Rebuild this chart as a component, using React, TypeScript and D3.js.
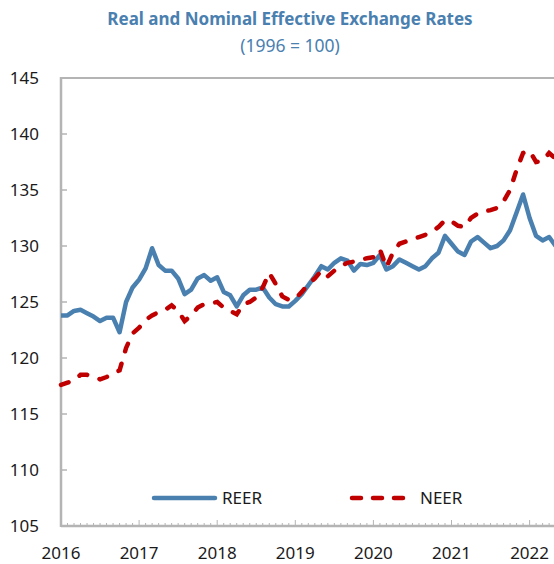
import * as React from "react";
import * as d3 from "d3";

// monthly values, Jan 2016 onward
const reer = [
  123.8, 123.8, 124.2, 124.3, 124.0, 123.7, 123.3, 123.6, 123.6, 122.3, 125.0, 126.3,
  127.0, 128.0, 129.8, 128.3, 127.8, 127.8, 127.1, 125.7, 126.1, 127.1, 127.4, 126.9,
  127.2, 125.9, 125.6, 124.6, 125.6, 126.1, 126.1, 126.3, 125.4, 124.8, 124.6, 124.6,
  125.1, 125.7, 126.5, 127.3, 128.2, 127.9, 128.5, 128.9, 128.7, 127.8, 128.4, 128.3,
  128.5, 129.2, 127.9, 128.2, 128.8, 128.5, 128.2, 127.9, 128.2, 128.9, 129.4, 130.9,
  130.2, 129.5, 129.2, 130.4, 130.8, 130.3, 129.8, 130.0, 130.5, 131.4, 133.0, 134.6,
  132.5, 130.9, 130.5, 130.8, 130.0,
];

const neer = [
  117.6, 117.8, 118.0, 118.5, 118.5, 118.3, 118.1, 118.3, 118.6, 118.9, 120.9, 122.2,
  122.7, 123.4, 123.8, 124.1, 124.3, 124.7, 124.2, 123.3, 123.8, 124.5, 124.8, 124.9,
  125.0, 124.5, 124.2, 123.9, 124.8, 125.0, 125.4, 126.3, 127.6, 126.6, 125.5, 125.2,
  125.3, 125.9, 126.6, 127.1, 127.8, 127.3, 127.8, 128.2, 128.5, 128.6, 128.8, 128.9,
  129.0, 129.7, 128.1, 129.4, 130.2, 130.4, 130.6, 130.8, 131.0, 131.3, 131.7, 132.3,
  132.2, 131.8, 131.7, 132.5, 132.9, 133.1, 133.2, 133.4, 134.0, 135.0, 136.8, 138.3,
  138.5, 137.5, 137.6, 138.3, 137.8,
];

const yearTicks = [2016, 2017, 2018, 2019, 2020, 2021, 2022];
const yTicks = [105, 110, 115, 120, 125, 130, 135, 140, 145];

const W = 554;
const H = 564;
const left = 61;
const right = 607.7;
const top = 78;
const bottom = 526;

const blue = "#4A80B0";
const red = "#C00000";
const grey = "#B4B4B4";
const font = "'Noto Sans', 'Open Sans', sans-serif";

export default function App() {
  const x = d3.scaleLinear().domain([2016, 2023]).range([left, right]);
  const y = d3.scaleLinear().domain([105, 145]).range([bottom, top]);

  const line = d3
    .line<number>()
    .x((_, i) => x(2016 + i / 12))
    .y((d) => y(d));

  const months = d3.range(2016 * 12, 2023 * 12 + 1).map((m) => m / 12);

  return (
    <svg
      width={W}
      height={H}
      style={{ position: "absolute", left: 0, top: 0, display: "block" }}
      fontFamily={font}
    >
      <rect width={W} height={H} fill="#fff" />
      <text x={290} y={25} textAnchor="middle" fontSize={17} fontWeight="bold" fill="#4A80B0">
        Real and Nominal Effective Exchange Rates
      </text>
      <text x={290} y={52} textAnchor="middle" fontSize={17.5} fill="#4A80B0">
        (1996 = 100)
      </text>

      {/* frame */}
      <line x1={left} x2={right} y1={top} y2={top} stroke={grey} strokeWidth={2} />
      <line x1={left} x2={left} y1={top - 1} y2={bottom + 1} stroke={grey} strokeWidth={2.5} />
      <line x1={left} x2={right} y1={bottom} y2={bottom} stroke={grey} strokeWidth={2.5} />

      {yTicks.map((t) => (
        <g key={t}>
          <line x1={left} x2={left + 6} y1={y(t)} y2={y(t)} stroke={grey} strokeWidth={1.5} />
          <text x={39} y={y(t) + 6} textAnchor="end" fontSize={17} fill="#1a1a1a">
            {t}
          </text>
        </g>
      ))}

      {months.map((m, i) => (
        <line
          key={i}
          x1={x(m)}
          x2={x(m)}
          y1={bottom}
          y2={bottom - (i % 12 === 0 ? 6 : 3)}
          stroke={grey}
          strokeWidth={1}
        />
      ))}
      {yearTicks.map((t) => (
        <text key={t} x={x(t)} y={559} textAnchor="middle" fontSize={17} fill="#1a1a1a">
          {t}
        </text>
      ))}

      <path
        d={line(reer) ?? ""}
        fill="none"
        stroke={blue}
        strokeWidth={4.5}
        strokeLinejoin="round"
      />
      <path
        d={line(neer) ?? ""}
        fill="none"
        stroke={red}
        strokeWidth={4.5}
        strokeLinecap="round"
        strokeDasharray="8,13"
      />

      {/* legend */}
      <line x1={154} x2={215} y1={498} y2={498} stroke={blue} strokeWidth={4.5} strokeLinecap="round" />
      <text x={222} y={504} fontSize={17} fill="#1a1a1a">REER</text>
      <line
        x1={352}
        x2={407}
        y1={498}
        y2={498}
        stroke={red}
        strokeWidth={4.5}
        strokeLinecap="round"
        strokeDasharray="9,12"
      />
      <text x={420} y={504} fontSize={17} fill="#1a1a1a">NEER</text>
    </svg>
  );
}
